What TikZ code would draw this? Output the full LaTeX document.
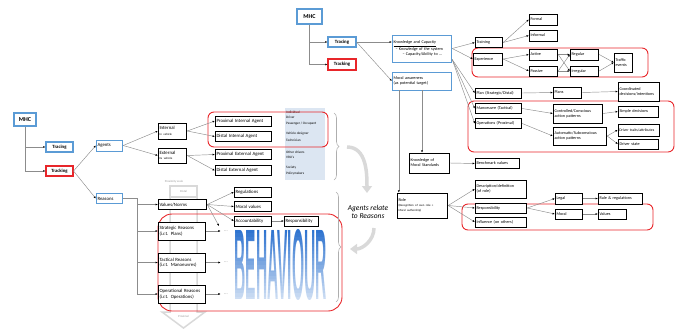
\documentclass[tikz,border=0pt]{standalone}
\usepackage{fontspec}
\setmainfont{Carlito}
\newfontfamily\behavfont{Liberation Sans}
\usepackage{graphicx}
\usetikzlibrary{arrows.meta,positioning,decorations.pathreplacing}
\definecolor{mhcblue}{HTML}{5B9BD5}
\definecolor{mhcred}{HTML}{E8262A}
\definecolor{linkgray}{HTML}{8C8C8C}
\definecolor{panelblue}{HTML}{DCE6F2}
\definecolor{scalegray}{HTML}{D9D9D9}
\definecolor{behavtop}{HTML}{2F74D0}
\newcommand\smalltxt{\fontsize{3}{3.5}\selectfont}
\tikzset{font=\fontsize{4.2}{4.9}\selectfont}
\tikzset{
  bx/.style={draw, line width=0.9pt, fill=white, align=left, inner xsep=1.25pt, inner ysep=1pt, text width=#1, minimum height=10pt},
  tb/.style={draw, line width=1.1pt, fill=white, inner sep=1pt, minimum height=10pt},
  link/.style={draw=linkgray, line width=0.45pt, -{Latex[length=2.2pt,width=2pt,color=black]}},
  grp/.style={draw=mhcred, line width=0.9pt, rounded corners=6pt},
  lft/.style={font=\fontsize{4.8}{5.5}\selectfont},
  bigarrow/.style={line width=3.5pt, scalegray, -{Triangle[length=7pt,width=10pt]}}
}
\begin{document}
\begin{tikzpicture}[x=1pt,y=-1pt]
\useasboundingbox (0,0) rectangle (681,330);

% proximity scale behind the reasons
\draw[scalegray, line width=1.5pt] (170,186) rectangle (197,197);
\draw[scalegray, line width=1.5pt] (170,197) -- (170,312) -- (162,312) -- (183.5,328) -- (205,312) -- (197,312) -- (197,197);
\node[text=gray!80, font=\smalltxt] (proxscale) at (174,182) {Proximity scale};
\node[text=gray!80, font=\smalltxt] (distal) at (183.5,191.5) {Distal};
\node[text=gray!80, font=\smalltxt] (proximal) at (183.5,316) {Proximal};

% agents panel
\fill[panelblue] (285,108) rectangle (325,180);
\foreach \y/\t in {112/Individual, 117/Driver, 124/{Passenger / Occupant}, 134/Vehicle designer, 140/Technician, 152/Other drivers, 157/VRU's, 168/Society, 174/Policymakers}
  \node[anchor=west, inner sep=0pt, font=\fontsize{3.4}{4}\selectfont] at (286,\y) {\t};

% red groups
\draw[grp] (208,112) rectangle (328,147);
\draw[grp, rounded corners=14pt] (158,214) rectangle (342,311);
\draw[grp] (472,48) rectangle (648,77);
\draw[grp] (468,101) rectangle (674,152);
\draw[grp] (462,204) rectangle (653,230);

% BEHAVIOUR, lighter towards the bottom
\node[inner sep=0pt, text=behavtop] (behav) at (280.5,265) {\resizebox{92pt}{70pt}{\behavfont\bfseries BEHAVIOUR}};
\foreach \k in {0,...,19}
  \fill[white, opacity=\k*0.04] (233,229.5+\k*3.55) rectangle (328,229.5+\k*3.55+3.55);

% braces and block arrows
\draw[decorate, decoration={brace, amplitude=5pt}, linkgray!70, line width=0.6pt] (334,113) -- (334,180);
\draw[decorate, decoration={brace, amplitude=5pt}, linkgray!70, line width=0.6pt] (336,192) -- (336,302);
\draw[bigarrow] (347,147) to[out=0,in=90] (367,193);
\draw[bigarrow] (374,228) to[out=-90,in=0] (350,249);
\node[font=\itshape\fontsize{7.5}{8.5}\selectfont, align=center] (relate) at (368,212) {Agents relate\\to Reasons};

% left tree
\begin{scope}[lft]
\node[tb, draw=mhcblue, font=\bfseries\fontsize{6}{7}\selectfont, minimum width=22pt, minimum height=13pt] (mhcL) at (25,119.5) {MHC};
\node[tb, draw=mhcblue, minimum width=27pt] (trcL) at (59.5,147) {\textbf{Tracing}};
\node[tb, draw=mhcred, minimum width=27pt] (trkL) at (59.5,171) {\textbf{Tracking}};
\node[bx=24pt, draw=mhcblue, minimum height=11pt] (agents) at (109.5,145.5) {Agents};
\node[bx=24pt, draw=mhcblue] (reasons) at (109.5,198.5) {Reasons};
\node[bx=26pt, minimum height=16pt] (internal) at (172.5,131) {Internal\\{\smalltxt In vehicle}};
\node[bx=26pt, minimum height=15pt] (external) at (172.5,155.5) {External\\{\smalltxt Ex vehicle}};
\node[bx=54pt] (pia) at (243.5,121) {Proximal Internal Agent};
\node[bx=54pt] (dia) at (243.5,136.5) {Distal Internal Agent};
\node[bx=54pt] (pea) at (243.5,154.5) {Proximal External Agent};
\node[bx=54pt] (dea) at (243.5,170.5) {Distal External Agent};
\node[bx=46pt] (values) at (182.5,204.5) {Values/Norms};
\node[bx=45pt, minimum height=18pt] (strategic) at (182,231) {Strategic Reasons\\(i.r.t. Plans)};
\node[bx=45pt, minimum height=19pt] (tactical) at (182,262.5) {Tactical Reasons\\(i.r.t. Manoeuvres)};
\node[bx=45pt, minimum height=18pt] (operational) at (182,294) {Operational Reasons\\(i.r.t. Operations)};
\node[text=gray] (dS) at (226,231) {...};
\node[text=gray] (dT) at (226,262.5) {...};
\node[text=gray] (dO) at (226,294) {...};
\node[bx=35pt] (regulations) at (253,192) {Regulations};
\node[bx=35pt] (moralv) at (253,206.5) {Moral values};
\node[bx=35pt] (account) at (253,221) {Accountability};
\node[bx=32pt] (respL) at (301.5,221) {Responsibility};
\end{scope}
\coordinate (vx) at (219,226);
\path (reasons.east) ++(14,0) coordinate (rj);

\draw[link] (mhcL.south) |- (trcL.west);
\draw[link] (mhcL.south) |- (trkL.west);
\draw[link] (trkL.east) -- (agents.west);
\draw[link] (trkL.east) -- (reasons.west);
\draw[link] (agents.east) -- (internal.west);
\draw[link] (agents.east) -- (external.west);
\draw[link] (internal.east) -- (pia.west);
\draw[link] (internal.east) -- (dia.west);
\draw[link] (external.east) -- (pea.west);
\draw[link] (external.east) -- (dea.west);
\draw[link] (reasons.east) -- (rj) |- (values.west);
\draw[link] (rj) |- (strategic.west);
\draw[link] (rj) |- (tactical.west);
\draw[link] (rj) |- (operational.west);
\draw[link] (strategic.east) -- (dS.west);
\draw[link] (tactical.east) -- (dT.west);
\draw[link] (operational.east) -- (dO.west);
\draw[link] (values.east) -- (regulations.west);
\draw[link] (values.east) -- (moralv.west);
\draw[link] (values.east) -- (account.west);
\draw[link] (values.east) -- (vx);
\draw[link] (account.east) -- (respL.west);

% right tree
\node[tb, draw=mhcblue, font=\bfseries\fontsize{6}{7}\selectfont, minimum width=25pt, minimum height=15pt] (mhcR) at (309.5,16.5) {MHC};
\node[tb, draw=mhcblue, minimum width=28pt, font=\fontsize{4.8}{5.5}\selectfont] (trcR) at (342,42) {\textbf{Tracing}};
\node[tb, draw=mhcred, minimum width=28pt, minimum height=11pt, font=\fontsize{4.8}{5.5}\selectfont] (trkR) at (342,64.5) {\textbf{Tracking}};
\node[bx=57pt, draw=mhcblue, minimum height=27pt] (knowcap) at (422,48.5) {\underline{Knowledge and Capacity}\\\hspace*{2pt}-- Knowledge of the system\\\hspace*{9pt}-- Capacity/Ability to ...};
\node[bx=57pt, draw=mhcblue, minimum height=18pt] (moralaw) at (422,81) {Moral awareness\\(as potential target)};
\node[bx=25pt] (training) at (489,42.5) {Training};
\node[bx=27pt, minimum height=12pt] (experience) at (488,59) {Experience};
\node[bx=26pt, minimum height=11pt] (formal) at (543.5,19.5) {Formal};
\node[bx=26pt, minimum height=11pt] (informal) at (543.5,35.5) {Informal};
\node[bx=26pt, minimum height=11pt] (active) at (543.5,54.5) {Active};
\node[bx=26pt] (passive) at (543.5,71) {Passive};
\node[bx=26pt, minimum height=11pt] (regular) at (584.5,54.5) {Regular};
\node[bx=26pt] (irregular) at (584.5,71) {Irregular};
\node[bx=16pt, minimum height=19pt] (traffic) at (623.5,62.5) {Traffic\\events};
\node[bx=44pt] (plan) at (498.5,93) {Plan (Strategic/Distal)};
\node[bx=44pt] (manoeuvre) at (498.5,108.5) {Manoeuvre (Tactical)};
\node[bx=44pt] (operations) at (498.5,123.5) {Operations (Proximal)};
\node[bx=26pt, minimum height=11pt] (plans) at (567.5,92.5) {Plans};
\node[bx=39pt, minimum height=19pt] (coord) at (639,91.5) {Coordinated\\decisions/intentions};
\node[bx=47pt, minimum height=19pt] (controlled) at (578,113.5) {Controlled/Conscious\\action patterns};
\node[bx=38pt, minimum height=11pt] (simple) at (638.5,111.5) {Simple decisions};
\node[bx=51pt, minimum height=18pt] (automatic) at (580,136) {Automatic/Subconscious\\action patterns};
\node[bx=38.5pt, minimum height=12pt, font=\fontsize{3.8}{4.4}\selectfont] (traits) at (638.5,130) {Driver traits/attributes};
\node[bx=38pt] (dstate) at (638.5,144) {Driver state};
\node[bx=38pt, minimum height=20pt] (kms) at (429.5,163) {Knowledge of\\Moral Standards};
\node[bx=42pt] (bench) at (497.5,163.5) {Benchmark values};
\node[bx=48pt, minimum height=25pt] (role) at (422.5,205.5) {Role\\{\smalltxt (Recognition of own role +}\\{\smalltxt Moral authorship)}};
\node[bx=49pt, minimum height=18pt] (descr) at (501,189) {Description/definition\\(of role)};
\node[bx=49pt] (respR) at (501,208) {Responsibility};
\node[bx=49pt] (influence) at (501,222) {Influence (on others)};
\node[bx=25pt, minimum height=11pt] (legal) at (569,198.5) {Legal};
\node[bx=42pt, minimum height=11pt] (rules) at (620.5,198.5) {Rule \& regulations};
\node[bx=25pt] (moral) at (569,214) {Moral};
\node[bx=26pt] (values2) at (612.5,214) {Values};

\draw[link] (mhcR.south) |- (trcR.west);
\draw[link] (mhcR.south) |- (trkR.west);
\draw[link] (trcR.east) -- (trcR.east -| knowcap.west);
\draw[link] (trcR.east) -- (moralaw.west);
\draw[link] (knowcap.east) -- (training.west);
\draw[link] (knowcap.east) -- (experience.west);
\draw[link] (knowcap.-20) -- (plan.west);
\draw[link] (knowcap.-20) -- (manoeuvre.west);
\draw[link] (knowcap.-20) -- (operations.west);
\draw[link] (training.east) -- (formal.west);
\draw[link] (training.east) -- (informal.west);
\draw[link] (experience.east) -- (active.west);
\draw[link] (experience.east) -- (passive.west);
\draw[link] (active.east) -- (regular.west);
\draw[link] (active.east) -- (irregular.west);
\draw[link] (passive.east) -- (regular.west);
\draw[link] (passive.east) -- (irregular.west);
\draw[link] (regular.east) -- (traffic.west);
\draw[link] (irregular.east) -- (traffic.west);
\draw[link] (plan.east) -- (plans.west);
\draw[link] (plans.east) -- (coord.west);
\draw[link] (manoeuvre.east) -- (controlled.west);
\draw[link] (operations.east) -- (automatic.west);
\draw[link] (controlled.east) -- (simple.west);
\draw[link] (automatic.east) -- (traits.west);
\draw[link] (automatic.east) -- (dstate.west);
\draw[link] (moralaw.south) -- (moralaw.south |- kms.north);
\draw[link] ([xshift=7pt]moralaw.south west) -- ([xshift=7pt]moralaw.south west |- role.north);
\draw[link] (kms.east) -- (bench.west);
\draw[link] (role.east) -- (descr.west);
\draw[link] (role.east) -- (respR.west);
\draw[link] (role.east) -- (influence.west);
\draw[link] (respR.east) -- (legal.west);
\draw[link] (respR.east) -- (moral.west);
\draw[link] (legal.east) -- (rules.west);
\draw[link] (moral.east) -- (values2.west);
\end{tikzpicture}
\end{document}
